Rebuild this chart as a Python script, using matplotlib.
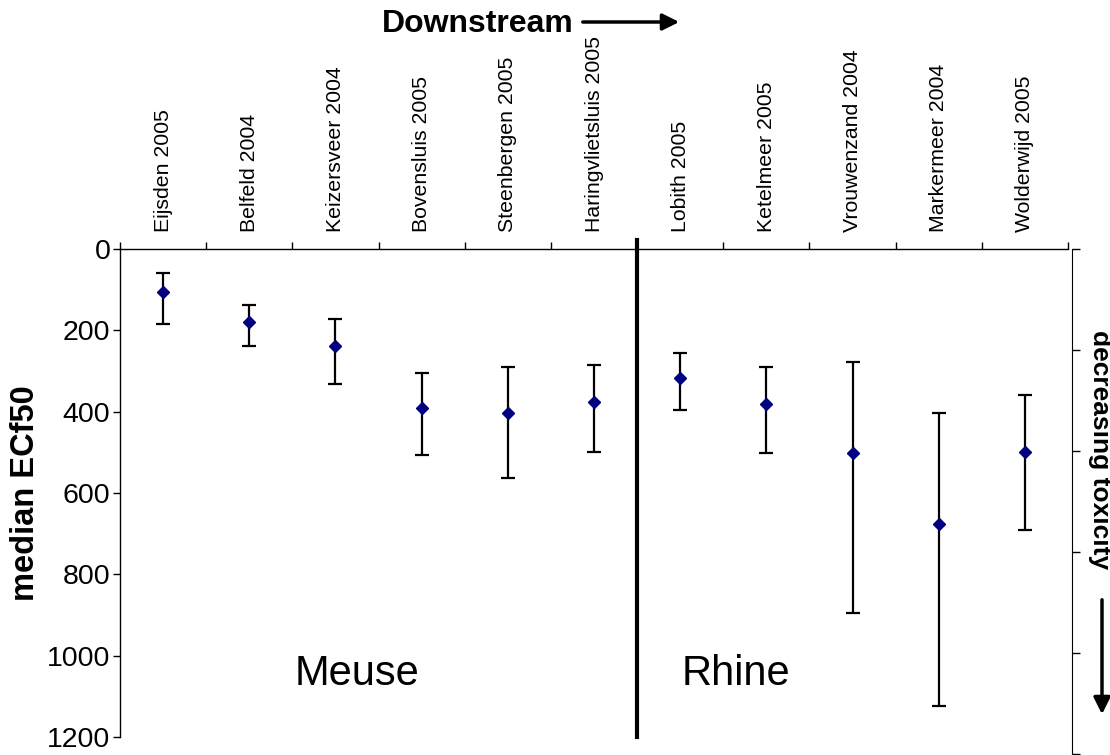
import numpy as np
import matplotlib
matplotlib.use("Agg")
import matplotlib.pyplot as plt

plt.rcParams['font.family'] = ['Liberation Sans', 'DejaVu Sans']

# sampling sites, upstream to downstream (Meuse then Rhine)
sites = ['Eijsden 2005', 'Belfeld 2004', 'Keizersveer 2004', 'Bovensluis 2005',
         'Steenbergen 2005', 'Haringvlietsluis 2005', 'Lobith 2005', 'Ketelmeer 2005',
         'Vrouwenzand 2004', 'Markermeer 2004', 'Wolderwijd 2005']
median_ecf50 = [106, 180, 239, 392, 404, 376, 318, 381, 502, 676, 498]
range_low = [59, 137, 172, 306, 290, 286, 255, 290, 279, 403, 359]
range_high = [184, 239, 331, 507, 562, 498, 397, 501, 896, 1123, 691]
yticks = [0, 200, 400, 600, 800, 1000, 1200]

x = np.arange(len(sites))
med = np.array(median_ecf50)
err = [med - np.array(range_low), np.array(range_high) - med]

fig = plt.figure(figsize=(11.1, 7.55), dpi=100)
W, H = 1110, 755
ax = fig.add_axes([120 / W, 1 - 737 / H, 948 / W, 488 / H])

ax.errorbar(x, med, yerr=err, fmt='D', color='#000080', ms=6.5,
            ecolor='black', elinewidth=1.6, capsize=5, capthick=1.6, zorder=3)

ax.set_xlim(-0.5, len(sites) - 0.5)
ax.set_ylim(1200, 0)
ax.set_yticks(yticks)
ax.tick_params(axis='y', labelsize=20.5, length=5, width=1, pad=2)

# site names on top, tick marks between categories
ax.xaxis.tick_top()
ax.set_xticks(x)
ax.set_xticklabels(sites, rotation=90, fontsize=15.3)
ax.tick_params(axis='x', which='major', length=0, pad=12)
ax.set_xticks(np.arange(-0.5, len(sites)), minor=True)
ax.tick_params(axis='x', which='minor', length=5, width=1, direction='out', top=True, bottom=False)

ax.spines['bottom'].set_visible(False)
ax.spines['right'].set_visible(False)
for s in ['top', 'left']:
    ax.spines[s].set_linewidth(1)

ax.set_ylabel('median ECf50', fontsize=23.5, fontweight='bold', labelpad=4)

# Meuse / Rhine split
ax.plot([5.5, 5.5], [-23, 1200], color='black', lw=3, clip_on=False)
ax.text(2.25, 1045, 'Meuse', fontsize=30, ha='center', va='center')
ax.text(6.65, 1045, 'Rhine', fontsize=30, ha='center', va='center')

# right-hand axis without labels
ax2 = fig.add_axes([1072 / W, 1 - 754 / H, 0.001, 505 / H])
ax2.set_ylim(5, 0)
ax2.set_yticks(range(6))
ax2.set_yticklabels([])
ax2.set_xticks([])
for s in ['top', 'bottom', 'right']:
    ax2.spines[s].set_visible(False)
ax2.tick_params(axis='y', direction='in', length=6, width=1)
ax2.patch.set_visible(False)

fig.text(1100 / W, 1 - 450 / H, 'decreasing toxicity', rotation=270, fontsize=19,
         fontweight='bold', ha='center', va='center')
ax.annotate('', xy=(1102 / W, 1 - 717 / H), xytext=(1102 / W, 1 - 597 / H),
            xycoords='figure fraction', textcoords='figure fraction',
            arrowprops=dict(arrowstyle='-|>', color='black', lw=2.5, mutation_scale=25))

fig.text(574 / W, 1 - 24 / H, 'Downstream', fontsize=23, fontweight='bold',
         ha='right', va='center')
ax.annotate('', xy=(682 / W, 1 - 22 / H), xytext=(580 / W, 1 - 22 / H),
            xycoords='figure fraction', textcoords='figure fraction',
            arrowprops=dict(arrowstyle='-|>', color='black', lw=2.5, mutation_scale=25))

fig.savefig('out.png', dpi=100)
